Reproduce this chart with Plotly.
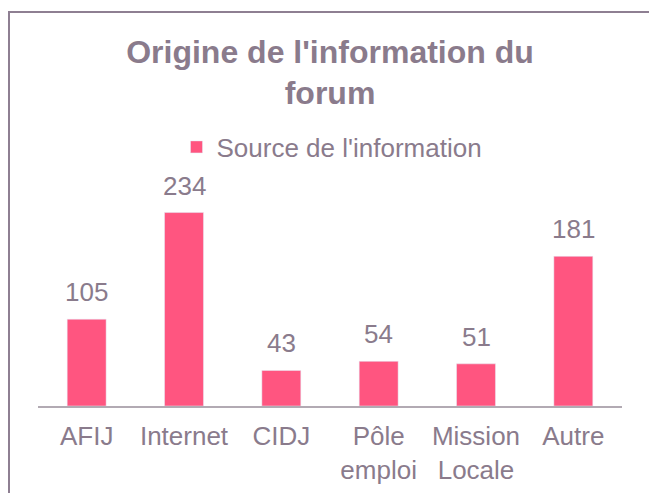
import plotly.graph_objects as go

categories = ["AFIJ", "Internet", "CIDJ", "Pôle<br>emploi", "Mission<br>Locale", "Autre"]
values = [105, 234, 43, 54, 51, 181]
series_name = "Source de l'information"
title_text = "Origine de l'information du<br>forum"

BAR = "#FF5580"
TXT = "#8A7B8C"
FONT = "Liberation Sans, Arial, sans-serif"

W, H = 649, 493
L, R, T, B = 38, 27, 158, 87
pw, ph = W - L - R, H - T - B

def px2u(x):
    return (x - L) / pw

def py2v(y):
    return 1 - (y - T) / ph

fig = go.Figure()
fig.add_trace(go.Bar(
    x=categories, y=values, name=series_name,
    marker=dict(color=BAR), width=0.4, showlegend=True,
))

for c, v in zip(categories, values):
    fig.add_annotation(x=c, y=v, text=str(v), showarrow=False,
                       yanchor="middle", yshift=27,
                       font=dict(size=26, color=TXT, family=FONT))

fig.update_layout(
    width=W, height=H,
    margin=dict(l=L, r=R, t=T, b=B, autoexpand=False),
    paper_bgcolor="white", plot_bgcolor="white",
    title=dict(text=title_text, x=0.5, xanchor="center", xref="paper",
               y=1 - 62.5 / H, yref="container", yanchor="middle",
               font=dict(size=32, color=TXT, family=FONT, weight="bold")),
    showlegend=True,
    legend=dict(orientation="h", x=px2u(332), xanchor="center",
                y=py2v(147), yanchor="middle",
                font=dict(size=26, color=TXT, family=FONT),
                bgcolor="rgba(0,0,0,0)"),
    xaxis=dict(showline=True, linecolor="#B2AAB3", linewidth=2,
               ticks="", ticklabelstandoff=6,
               tickfont=dict(size=26, color=TXT, family=FONT),
               showgrid=False, zeroline=False),
    yaxis=dict(range=[0, 300], visible=False, showgrid=False, zeroline=False),
    bargap=0.6,
)

fig.add_shape(type="rect", xref="paper", yref="paper",
              x0=px2u(9), x1=px2u(700), y0=py2v(560), y1=py2v(12),
              line=dict(color="#8E7F92", width=2), fillcolor="rgba(0,0,0,0)",
              layer="above")

fig.write_html("out.html", config={"displayModeBar": False},
               post_script="document.body.style.margin='0';")
